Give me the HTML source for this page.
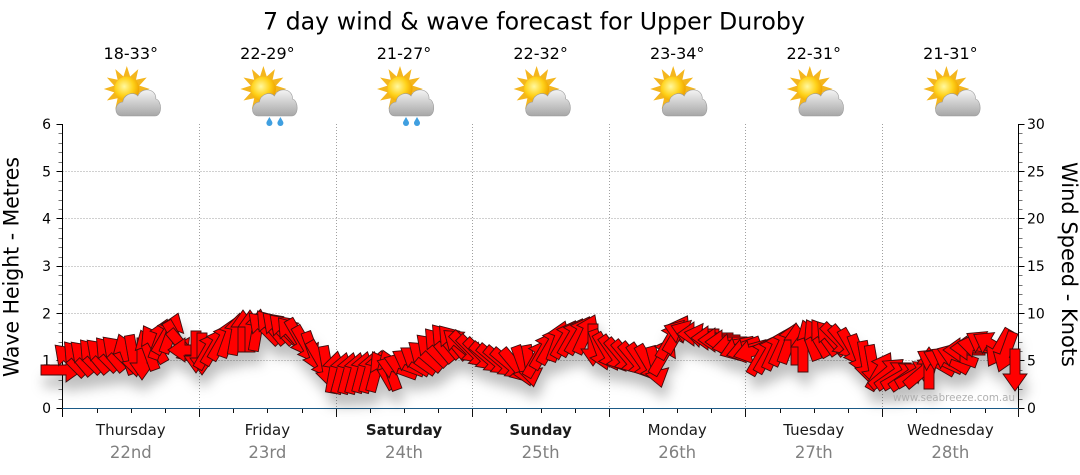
<!DOCTYPE html>
<html><head><meta charset="utf-8"><style>html,body{margin:0;padding:0;background:#fff;}svg{display:block}</style></head>
<body>
<svg id="chart" width="1080" height="475" viewBox="0 0 1080 475" xmlns="http://www.w3.org/2000/svg" font-family="'DejaVu Sans','Liberation Sans',sans-serif">
<defs>
<path id="a" d="M-21,-5 L4,-5 L4,-12 L21,0 L4,12 L4,5 L-21,5 Z" fill="#ff0000" stroke="#3c0a0a" stroke-width="0.9"/>
<filter id="sh" x="-5%" y="-40%" width="110%" height="200%"><feDropShadow dx="3" dy="12" stdDeviation="6" flood-color="#000" flood-opacity="0.25"/></filter>
<radialGradient id="sg" cx="0.4" cy="0.4" r="0.6"><stop offset="0" stop-color="#fff8a0"/><stop offset="0.6" stop-color="#ffd21a"/><stop offset="1" stop-color="#f0a500"/></radialGradient>
<linearGradient id="cg" x1="0" y1="0" x2="0" y2="1"><stop offset="0" stop-color="#f4f4f4"/><stop offset="1" stop-color="#a6a6a6"/></linearGradient>
<g id="sun"><polygon points="23,0 12.56,3.36 19.92,11.5 9.19,9.19 11.5,19.92 3.36,12.56 0,23 -3.36,12.56 -11.5,19.92 -9.19,9.19 -19.92,11.5 -12.56,3.36 -23,0 -12.56,-3.36 -19.92,-11.5 -9.19,-9.19 -11.5,-19.92 -3.36,-12.56 0,-23 3.36,-12.56 11.5,-19.92 9.19,-9.19 19.92,-11.5 12.56,-3.36" fill="#f4b61e"/><circle r="12.5" fill="url(#sg)"/></g>
<g id="icon"><use href="#sun" x="-4" y="89"/><path d="M-9,116 C-17,116 -17,103 -8,102 C-7,94 3,91 7,96 C11,86 26,89 25,99 C31,100 32,116 24,116 Z" fill="url(#cg)" stroke="#9a9a9a" stroke-width="0.6"/></g>
<g id="rain"><use href="#icon"/><path d="M2,117 L4.6,121.5 A3,3 0 1 1 -0.6,121.5 Z" fill="#3f9fe0"/><path d="M13,117 L15.6,121.5 A3,3 0 1 1 10.4,121.5 Z" fill="#3f9fe0"/></g>
</defs>

<text x="263" y="29.5" font-size="24" textLength="542" lengthAdjust="spacingAndGlyphs" fill="#000">7 day wind &amp; wave forecast for Upper Duroby</text>

<g font-size="16" fill="#000" text-anchor="middle">
<text x="130.8" y="59">18-33°</text>
<text x="267.4" y="59">22-29°</text>
<text x="404" y="59">21-27°</text>
<text x="540.6" y="59">22-32°</text>
<text x="677.2" y="59">23-34°</text>
<text x="813.8" y="59">22-31°</text>
<text x="950.4" y="59">21-31°</text>
</g>
<use href="#icon" x="130.8"/>
<use href="#rain" x="267.4"/>
<use href="#rain" x="404"/>
<use href="#icon" x="540.6"/>
<use href="#icon" x="677.2"/>
<use href="#icon" x="813.8"/>
<use href="#icon" x="950.4"/>

<g stroke="#a0a0a0" stroke-width="1" stroke-dasharray="1 2" fill="none">
<path d="M62.5,360.5H1018.5M62.5,313.5H1018.5M62.5,266.5H1018.5M62.5,218.5H1018.5M62.5,171.5H1018.5"/>
<path d="M199.5,124V408M336.5,124V408M472.5,124V408M609.5,124V408M745.5,124V408M882.5,124V408"/>
</g>

<g fill="none" stroke-width="1">
<path d="M62.5,124V417M1018.5,124V408" stroke="#000"/>
<path d="M56.5,408.5H62.5M56.5,360.5H62.5M56.5,313.5H62.5M56.5,266.5H62.5M56.5,218.5H62.5M56.5,171.5H62.5M56.5,124.5H62.5M1018.5,408.5H1024.5M1018.5,360.5H1024.5M1018.5,313.5H1024.5M1018.5,266.5H1024.5M1018.5,218.5H1024.5M1018.5,171.5H1024.5M1018.5,124.5H1024.5" stroke="#000"/>
<path id="minL" stroke="#777" d=""/>
<path d="M199.5,408V417M336.5,408V417M472.5,408V417M609.5,408V417M745.5,408V417M882.5,408V417M1018.5,408V417" stroke="#111"/>
<path id="minB" stroke="#111" d=""/>
<path d="M62.5,408.5H1018.5" stroke="#1b5a87"/>
</g>

<g font-size="14" fill="#000">
<g text-anchor="end">
<text x="51" y="413">0</text><text x="51" y="365.5">1</text><text x="51" y="318.5">2</text><text x="51" y="271">3</text><text x="51" y="223.5">4</text><text x="51" y="176.5">5</text><text x="51" y="129">6</text>
</g>
<text x="1027" y="413">0</text><text x="1027" y="365.5">5</text><text x="1027" y="318.5">10</text><text x="1027" y="271">15</text><text x="1027" y="223.5">20</text><text x="1027" y="176.5">25</text><text x="1027" y="129">30</text>
</g>

<text transform="translate(18.5,267) rotate(-90)" text-anchor="middle" font-size="21" textLength="220" lengthAdjust="spacingAndGlyphs" fill="#000">Wave Height - Metres</text>
<text transform="translate(1062,264.5) rotate(90)" text-anchor="middle" font-size="21" textLength="205" lengthAdjust="spacingAndGlyphs" fill="#000">Wind Speed - Knots</text>

<g font-size="15" fill="#1a1a1a" text-anchor="middle">
<text x="130.8" y="435">Thursday</text>
<text x="267.4" y="435">Friday</text>
<text x="404" y="435" font-weight="bold">Saturday</text>
<text x="540.6" y="435" font-weight="bold">Sunday</text>
<text x="677.2" y="435">Monday</text>
<text x="813.8" y="435">Tuesday</text>
<text x="950.4" y="435">Wednesday</text>
</g>
<g font-size="16.5" fill="#808080" text-anchor="middle">
<text x="130.8" y="458">22nd</text>
<text x="267.4" y="458">23rd</text>
<text x="404" y="458">24th</text>
<text x="540.6" y="458">25th</text>
<text x="677.2" y="458">26th</text>
<text x="813.8" y="458">27th</text>
<text x="950.4" y="458">28th</text>
</g>

<g id="arrows" filter="url(#sh)"></g>

<text x="893" y="401" font-size="10.5" fill="#b0b0b0" textLength="122" lengthAdjust="spacingAndGlyphs">www.seabreeze.com.au</text>
</svg>
<script>
(function(){
var NS="http://www.w3.org/2000/svg";
var D="62,370,0 70,360,225 78,358,230 86,357,225 94,356,230 102,355,225 110,354,230 118,352,225 126,354,250 133,356,80 142,359,90 148,350,250 154,344,240 160,339,290 166,335,300 171,333,290 177,340,60 183,347,50 189,350,180 196,352,90 202,354,90 208,350,300 215,346,300 222,341,300 229,337,290 236,334,280 243,331,270 250,331,270 257,330,280 264,328,225 271,327,230 278,328,225 285,330,225 292,334,230 299,338,60 306,345,60 313,352,70 320,360,60 327,367,80 334,372,280 341,373,285 348,373,285 355,373,285 362,372,285 369,372,285 376,371,285 383,370,240 390,370,250 397,368,200 404,365,200 411,362,210 418,360,215 425,356,220 432,350,225 439,345,230 446,341,230 453,342,230 460,344,220 467,348,45 474,352,45 481,355,45 488,358,40 495,360,40 502,362,40 509,364,40 516,366,50 523,366,70 530,366,80 537,358,300 544,350,300 551,345,300 558,341,290 565,339,300 572,337,300 579,335,300 586,334,295 593,345,90 600,350,70 607,352,60 614,354,55 621,356,50 628,358,50 635,360,50 642,362,55 649,364,60 656,367,75 663,356,300 670,340,300 677,334,300 684,333,200 691,333,200 698,334,180 705,336,190 712,338,180 719,340,180 726,342,180 733,345,170 740,348,160 747,350,165 754,351,165 761,356,300 768,354,300 775,350,295 782,346,295 789,343,290 796,344,270 803,351,270 810,340,250 817,338,240 824,337,235 831,338,230 838,340,45 845,343,50 852,348,60 859,355,70 866,362,80 873,366,80 880,371,300 887,373,320 894,375,325 901,376,330 908,376,325 915,374,330 922,372,320 929,368,270 936,362,210 943,361,205 950,360,210 957,356,200 964,350,180 971,348,180 978,346,190 985,344,210 992,345,210 999,348,120 1006,352,110 1015,370,90";
var g=document.getElementById("arrows");
D.split(" ").forEach(function(s){
 var p=s.split(",");
 var u=document.createElementNS(NS,"use");
 u.setAttribute("href","#a");
 u.setAttribute("transform","translate("+p[0]+" "+p[1]+") rotate("+p[2]+")");
 g.appendChild(u);
});
var d="",i,y;
for(i=1;i<30;i++){ if(i%5==0) continue; y=Math.round(408-i*9.4667)+0.5; d+="M58.5,"+y+"H62M1019,"+y+"H1022.5"; }
document.getElementById("minL").setAttribute("d",d);
var b="",k,m,x;
for(k=0;k<7;k++){ for(m=1;m<4;m++){ x=Math.round(62.5+136.6*k+34.15*m)+0.5; b+="M"+x+",408V413"; } }
document.getElementById("minB").setAttribute("d",b);
})();
</script>
</body></html>
